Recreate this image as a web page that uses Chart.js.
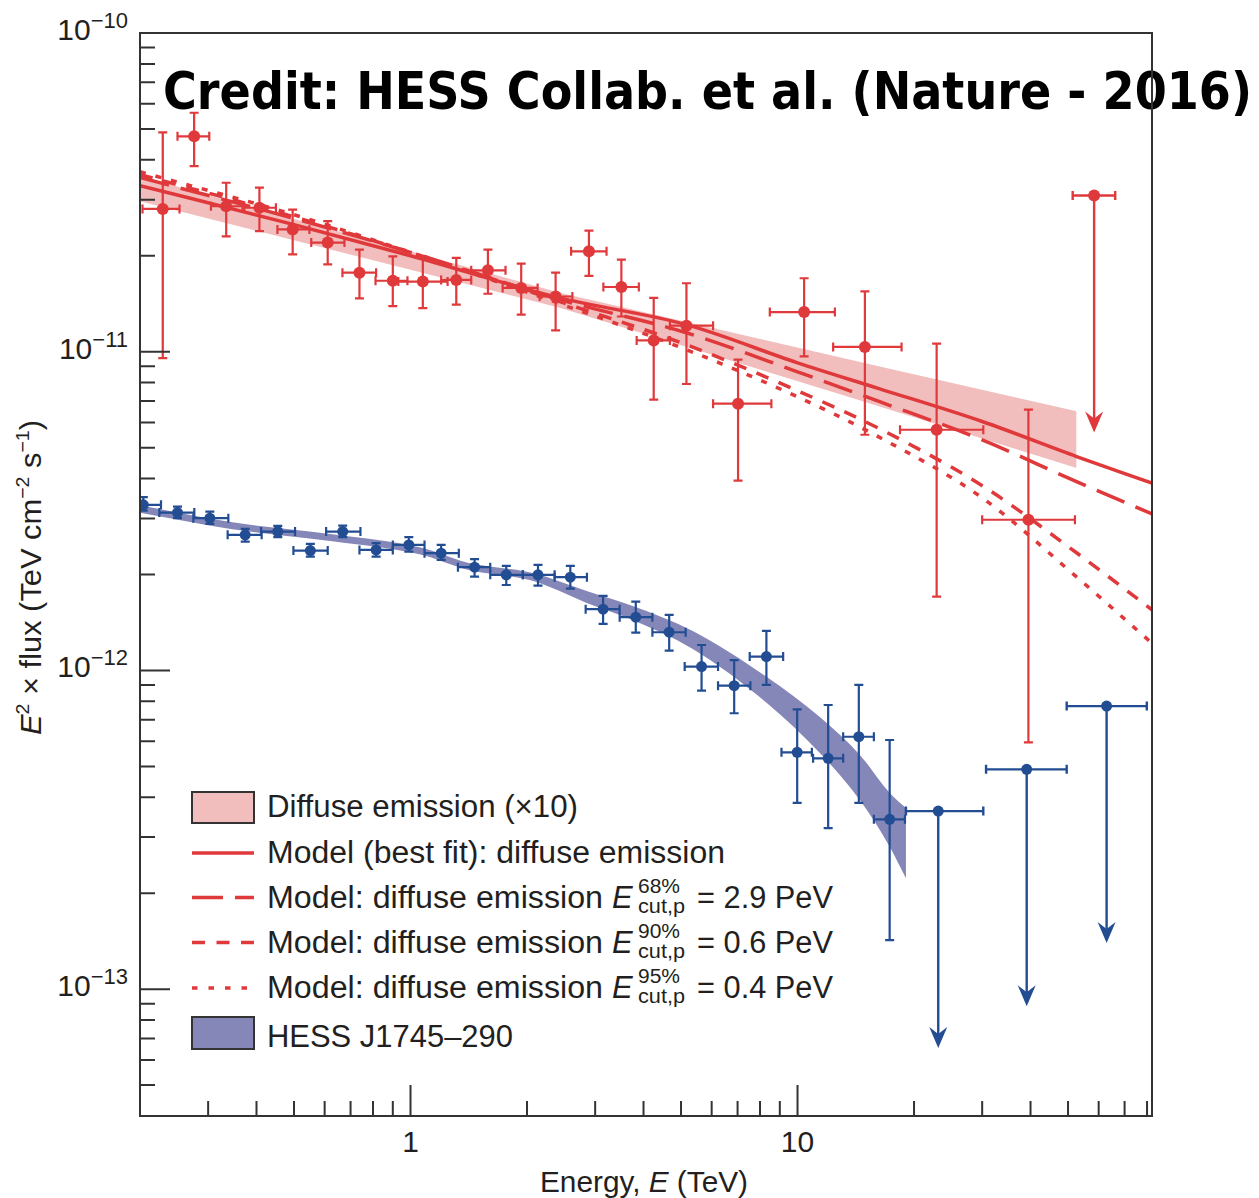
<!DOCTYPE html>
<html>
<head>
<meta charset="utf-8">
<title>Galactic Centre diffuse emission spectrum</title>
<script src="https://cdn.jsdelivr.net/npm/chart.js@4.4.1/dist/chart.umd.min.js"></script>
<style>
  html, body { margin: 0; padding: 0; background: #fff; }
  #wrap { position: relative; width: 1259px; height: 1198px; overflow: hidden; }
  #labels, #spectrum { position: absolute; left: 0; top: 0; }
  #labels { z-index: 0; font-family: "Liberation Sans", Arial, sans-serif; fill: #231f20; }
  #spectrum { z-index: 1; }
</style>
</head>
<body>
<div id="wrap">
  <svg id="labels" width="1259" height="1198" xmlns="http://www.w3.org/2000/svg">
    <text x="163" y="109" font-family="DejaVu Sans" font-weight="bold" font-size="52" fill="#000"
          textLength="1089" lengthAdjust="spacingAndGlyphs">Credit: HESS Collab. et al. (Nature - 2016)</text>
    <g id="ticklabels"></g>

    <!-- axis titles -->
    <text x="540" y="1192" font-size="29" textLength="208" lengthAdjust="spacingAndGlyphs">Energy, <tspan font-style="italic">E</tspan> (TeV)</text>
    <text transform="translate(41,735) rotate(-90)" font-size="30" textLength="315" lengthAdjust="spacingAndGlyphs"><tspan font-style="italic">E</tspan><tspan font-size="19" dy="-12">2</tspan><tspan dy="12"> × flux (TeV cm</tspan><tspan font-size="19" dy="-12">−2</tspan><tspan dy="12"> s</tspan><tspan font-size="19" dy="-12">−1</tspan><tspan dy="12">)</tspan></text>

    <!-- legend -->
    <g font-size="31">
      <rect x="192" y="792" width="62" height="31" fill="#f2bdbd" stroke="#333" stroke-width="2"/>
      <text x="267" y="817" textLength="311" lengthAdjust="spacingAndGlyphs">Diffuse emission (×10)</text>

      <line x1="192" x2="254" y1="853" y2="853" stroke="#e0393b" stroke-width="3.5"/>
      <text x="267" y="863" textLength="458" lengthAdjust="spacingAndGlyphs">Model (best fit): diffuse emission</text>

      <line x1="192" x2="254" y1="897.5" y2="897.5" stroke="#e0393b" stroke-width="3.5" stroke-dasharray="31 12"/>
      <text x="267" y="908" textLength="336" lengthAdjust="spacingAndGlyphs">Model: diffuse emission</text>
      <text x="612" y="908" font-style="italic">E</text>
      <text x="638" y="893" font-size="20" textLength="42" lengthAdjust="spacingAndGlyphs">68%</text>
      <text x="638" y="913" font-size="20" textLength="47" lengthAdjust="spacingAndGlyphs">cut,p</text>
      <text x="697" y="908" textLength="136" lengthAdjust="spacingAndGlyphs">= 2.9 PeV</text>

      <line x1="192" x2="254" y1="942.5" y2="942.5" stroke="#e0393b" stroke-width="3.5" stroke-dasharray="13 11.5"/>
      <text x="267" y="953" textLength="336" lengthAdjust="spacingAndGlyphs">Model: diffuse emission</text>
      <text x="612" y="953" font-style="italic">E</text>
      <text x="638" y="938" font-size="20" textLength="42" lengthAdjust="spacingAndGlyphs">90%</text>
      <text x="638" y="958" font-size="20" textLength="47" lengthAdjust="spacingAndGlyphs">cut,p</text>
      <text x="697" y="953" textLength="136" lengthAdjust="spacingAndGlyphs">= 0.6 PeV</text>

      <line x1="192" x2="254" y1="988" y2="988" stroke="#e0393b" stroke-width="3.5" stroke-dasharray="5.5 11"/>
      <text x="267" y="998" textLength="336" lengthAdjust="spacingAndGlyphs">Model: diffuse emission</text>
      <text x="612" y="998" font-style="italic">E</text>
      <text x="638" y="983" font-size="20" textLength="42" lengthAdjust="spacingAndGlyphs">95%</text>
      <text x="638" y="1003" font-size="20" textLength="47" lengthAdjust="spacingAndGlyphs">cut,p</text>
      <text x="697" y="998" textLength="136" lengthAdjust="spacingAndGlyphs">= 0.4 PeV</text>

      <rect x="192" y="1017" width="62" height="32" fill="#8487b7" stroke="#333" stroke-width="2"/>
      <text x="267" y="1047" textLength="246" lengthAdjust="spacingAndGlyphs">HESS J1745–290</text>
    </g>
  </svg>
  <canvas id="spectrum" width="1259" height="1198"></canvas>
</div>

<script>
// diffuse emission (x10): flux points, TeV and TeV cm^-2 s^-1
var diffE   = [0.229, 0.276, 0.334, 0.407, 0.496, 0.611, 0.738, 0.90, 1.076, 1.313, 1.585, 1.932, 2.371, 2.891, 3.506, 4.25, 5.164, 7.02, 10.4, 14.93, 22.88, 39.5];
var diffF   = [2.805e-11, 4.74e-11, 2.86e-11, 2.83e-11, 2.42e-11, 2.20e-11, 1.77e-11, 1.67e-11, 1.66e-11, 1.68e-11, 1.80e-11, 1.585e-11, 1.49e-11, 2.065e-11, 1.596e-11, 1.085e-11, 1.207e-11, 6.87e-12, 1.332e-11, 1.035e-11, 5.69e-12, 2.97e-12];
var diffFhi = [4.88e-11, 5.62e-11, 3.39e-11, 3.27e-11, 2.79e-11, 2.57e-11, 2.09e-11, 1.99e-11, 1.99e-11, 1.97e-11, 2.09e-11, 1.89e-11, 1.77e-11, 2.40e-11, 1.945e-11, 1.475e-11, 1.64e-11, 9.44e-12, 1.70e-11, 1.546e-11, 1.06e-11, 6.58e-12];
var diffFlo = [9.55e-12, 3.82e-11, 2.30e-11, 2.39e-11, 2.02e-11, 1.88e-11, 1.47e-11, 1.39e-11, 1.37e-11, 1.405e-11, 1.52e-11, 1.307e-11, 1.166e-11, 1.73e-11, 1.29e-11, 7.07e-12, 7.92e-12, 3.94e-12, 9.67e-12, 5.49e-12, 1.705e-12, 5.95e-13];
var diffElo = [0.203, 0.250, 0.305, 0.372, 0.453, 0.554, 0.667, 0.812, 0.93, 1.20, 1.435, 1.73, 2.156, 2.60, 3.15, 3.84, 4.68, 6.05, 8.48, 12.36, 18.4, 30.0];
var diffEhi = [0.253, 0.302, 0.368, 0.449, 0.548, 0.675, 0.815, 0.982, 1.247, 1.435, 1.76, 2.13, 2.62, 3.21, 3.89, 4.68, 6.05, 8.56, 12.49, 18.57, 30.2, 52.1];
// diffuse emission upper limit
var diffUlE   = [58.4];
var diffUlF   = [3.09e-11];
var diffUlElo = [51.4];
var diffUlEhi = [66.2];

// diffuse power-law fit band
var diffBandE  = [0.2, 1, 2.43, 16.3, 52.6];
var diffBandHi = [3.55e-11, 2.065e-11, 1.53e-11, 8.99e-12, 6.50e-12];
var diffBandLo = [2.965e-11, 1.807e-11, 1.374e-11, 6.73e-12, 4.32e-12];

// hadronic models for the diffuse emission
var modelE    = [0.2, 0.5, 1, 2.43, 5.16, 10, 16.3, 30, 52.6, 82.4];
var modelBest = [3.32e-11, 2.505e-11, 2.00e-11, 1.475e-11, 1.216e-11, 9.23e-12, 7.65e-12, 6.04e-12, 4.69e-12, 3.87e-12];
var model68   = [3.52e-11, 2.62e-11, 2.05e-11, 1.457e-11, 1.147e-11, 8.65e-12, 6.97e-12, 5.29e-12, 3.91e-12, 3.10e-12];
var model90   = [3.595e-11, 2.65e-11, 2.05e-11, 1.436e-11, 1.052e-11, 7.545e-12, 5.73e-12, 3.80e-12, 2.34e-12, 1.55e-12];
var model95   = [3.67e-11, 2.69e-11, 2.05e-11, 1.415e-11, 1.015e-11, 7.22e-12, 5.385e-12, 3.48e-12, 1.966e-12, 1.217e-12];

// HESS J1745-290 flux points
var srcE   = [0.204, 0.250, 0.303, 0.374, 0.454, 0.551, 0.668, 0.815, 0.99, 1.20, 1.464, 1.768, 2.135, 2.588, 3.145, 3.82, 4.66, 5.65, 6.86, 8.31, 9.98, 12.0, 14.4, 17.3];
var srcF   = [3.309e-12, 3.128e-12, 3.005e-12, 2.663e-12, 2.727e-12, 2.377e-12, 2.727e-12, 2.389e-12, 2.477e-12, 2.333e-12, 2.109e-12, 1.995e-12, 1.995e-12, 1.962e-12, 1.557e-12, 1.469e-12, 1.318e-12, 1.028e-12, 8.96e-13, 1.105e-12, 5.535e-13, 5.30e-13, 6.195e-13, 3.41e-13];
var srcFhi = [3.498e-12, 3.267e-12, 3.151e-12, 2.781e-12, 2.842e-12, 2.495e-12, 2.848e-12, 2.508e-12, 2.619e-12, 2.477e-12, 2.234e-12, 2.129e-12, 2.145e-12, 2.129e-12, 1.714e-12, 1.644e-12, 1.494e-12, 1.202e-12, 1.078e-12, 1.330e-12, 7.55e-13, 7.79e-13, 9.01e-13, 6.05e-13];
var srcFlo = [3.175e-12, 3.005e-12, 2.884e-12, 2.537e-12, 2.619e-12, 2.276e-12, 2.619e-12, 2.276e-12, 2.360e-12, 2.223e-12, 1.970e-12, 1.854e-12, 1.845e-12, 1.806e-12, 1.400e-12, 1.314e-12, 1.154e-12, 8.64e-13, 7.34e-13, 9.01e-13, 3.84e-13, 3.20e-13, 3.84e-13, 1.426e-13];
var srcElo = [0.183, 0.2244, 0.2747, 0.3369, 0.411, 0.4982, 0.6053, 0.738, 0.900, 1.087, 1.326, 1.607, 1.951, 2.357, 2.835, 3.471, 4.217, 5.11, 6.232, 7.524, 9.09, 10.97, 13.12, 15.75];
var srcEhi = [0.2266, 0.2763, 0.3383, 0.4124, 0.5031, 0.611, 0.7424, 0.900, 1.087, 1.333, 1.607, 1.951, 2.357, 2.857, 3.471, 4.217, 5.14, 6.232, 7.556, 9.18, 10.89, 13.12, 15.75, 18.95];
// HESS J1745-290 upper limits
var srcUlE   = [23.1, 39.1, 62.9];
var srcUlF   = [3.62e-13, 4.895e-13, 7.73e-13];
var srcUlElo = [19.06, 30.7, 49.6];
var srcUlEhi = [30.2, 49.6, 79.9];

// HESS J1745-290 spectral fit band
var srcBandE  = [0.2, 0.3465, 0.6284, 1.055, 1.396, 2.068, 2.852, 3.751, 5.361, 8.331, 11.42, 14.49, 17.33, 19.06];
var srcBandHi = [3.297e-12, 2.915e-12, 2.673e-12, 2.433e-12, 2.183e-12, 2.023e-12, 1.776e-12, 1.594e-12, 1.330e-12, 9.54e-13, 7.14e-13, 5.43e-13, 4.12e-13, 3.70e-13];
var srcBandLo = [3.122e-12, 2.772e-12, 2.541e-12, 2.313e-12, 2.075e-12, 1.910e-12, 1.629e-12, 1.441e-12, 1.168e-12, 7.91e-13, 5.51e-13, 3.92e-13, 2.79e-13, 2.23e-13];

// axes
var xTickValues = [1, 10];
var xTickLabels = ["1", "10"];
var yTickPowers = [-10, -11, -12, -13];

var RED = "#e0393b", PINK = "#f2bdbd", BLUE = "#234d93", LAVENDER = "#8487b7", AXIS = "#333333";
var ARROW_LEN = 237;

function xy(xs, ys) {
    return xs.map(function (x, i) { return { x: x, y: ys[i] }; });
}

function modelLine(label, ys, dash) {
    return {
        label: label,
        data: xy(modelE, ys),
        showLine: true,
        borderColor: RED,
        borderWidth: 3.5,
        borderDash: dash,
        pointRadius: 0,
        cubicInterpolationMode: "monotone",
        order: 5
    };
}

function bandEdge(label, xs, ys, fill, color, smooth) {
    return {
        label: label,
        data: xy(xs, ys),
        showLine: true,
        borderWidth: 0,
        borderColor: "transparent",
        backgroundColor: color,
        pointRadius: 0,
        fill: fill,
        cubicInterpolationMode: smooth ? "monotone" : "default",
        tension: 0,
        order: 10
    };
}

function fluxPoints(label, xs, ys, color, radius, errs, upper) {
    return {
        label: label,
        data: xy(xs, ys),
        backgroundColor: color,
        borderColor: color,
        borderWidth: 0,
        pointRadius: radius,
        errors: errs,
        upperLimit: !!upper,
        order: 1
    };
}

// error bars, caps and upper-limit arrows, drawn just before the points
var errorBars = {
    id: "errorBars",
    beforeDatasetDraw: function (chart, args) {
        var ds = chart.data.datasets[args.index];
        if (!ds.errors) return;
        var ctx = chart.ctx, a = chart.chartArea;
        var xs = chart.scales.x, ys = chart.scales.y;
        var e = ds.errors, cap = 4.5;
        ctx.save();
        ctx.beginPath();
        ctx.rect(a.left, a.top, a.right - a.left, a.bottom - a.top);
        ctx.clip();
        ctx.strokeStyle = ds.borderColor;
        ctx.fillStyle = ds.borderColor;
        ctx.lineWidth = ds.upperLimit ? 2.4 : 2.2;
        ds.data.forEach(function (p, i) {
            var px = xs.getPixelForValue(p.x), py = ys.getPixelForValue(p.y);
            var x0 = xs.getPixelForValue(e.xlo[i]), x1 = xs.getPixelForValue(e.xhi[i]);
            ctx.beginPath();
            ctx.moveTo(x0, py); ctx.lineTo(x1, py);
            ctx.moveTo(x0, py - cap); ctx.lineTo(x0, py + cap);
            ctx.moveTo(x1, py - cap); ctx.lineTo(x1, py + cap);
            if (e.ylo) {
                var y0 = ys.getPixelForValue(e.ylo[i]), y1 = ys.getPixelForValue(e.yhi[i]);
                ctx.moveTo(px, y1); ctx.lineTo(px, y0);
                ctx.moveTo(px - cap, y1); ctx.lineTo(px + cap, y1);
                ctx.moveTo(px - cap, y0); ctx.lineTo(px + cap, y0);
            }
            if (ds.upperLimit) {
                ctx.moveTo(px, py); ctx.lineTo(px, py + ARROW_LEN - 12);
            }
            ctx.stroke();
            if (ds.upperLimit) {
                var tip = py + ARROW_LEN;
                ctx.beginPath();
                ctx.moveTo(px, tip);
                ctx.lineTo(px - 9, tip - 21);
                ctx.lineTo(px, tip - 14);
                ctx.lineTo(px + 9, tip - 21);
                ctx.closePath();
                ctx.fill();
            }
        });
        ctx.restore();
    }
};

// box frame with inward ticks on the left and bottom axes
var axisFrame = {
    id: "axisFrame",
    afterDatasetsDraw: function (chart) {
        var ctx = chart.ctx, a = chart.chartArea;
        var xs = chart.scales.x, ys = chart.scales.y;
        ctx.save();
        ctx.strokeStyle = AXIS;
        ctx.lineWidth = 2;
        ctx.beginPath();
        for (var p = -1; p <= 1; p++) {
            for (var m = 1; m <= 9; m++) {
                var v = m * Math.pow(10, p);
                if (v <= xs.min * 1.001 || v >= xs.max) continue;
                var px = xs.getPixelForValue(v);
                ctx.moveTo(px, a.bottom);
                ctx.lineTo(px, a.bottom - (m === 1 ? 31 : 15));
            }
        }
        for (var q = -14; q <= -11; q++) {
            for (var n = 1; n <= 9; n++) {
                var w = n * Math.pow(10, q);
                if (w <= ys.min * 1.001 || w >= ys.max * 0.999) continue;
                var py = ys.getPixelForValue(w);
                ctx.moveTo(a.left, py);
                ctx.lineTo(a.left + (n === 1 ? 30 : 15), py);
            }
        }
        ctx.stroke();
        ctx.strokeRect(a.left, a.top, a.right - a.left, a.bottom - a.top);
        ctx.restore();
    }
};

var chart = new Chart(document.getElementById("spectrum"), {
    type: "scatter",
    data: {
        datasets: [
            bandEdge("Diffuse emission upper", diffBandE, diffBandHi, false, PINK, false),
            bandEdge("Diffuse emission (x10)", diffBandE, diffBandLo, "-1", PINK, false),
            bandEdge("HESS J1745-290 upper", srcBandE, srcBandHi, false, LAVENDER, true),
            bandEdge("HESS J1745-290", srcBandE, srcBandLo, "-1", LAVENDER, true),
            modelLine("Model (best fit): diffuse emission", modelBest, []),
            modelLine("Model: Ecut 2.9 PeV", model68, [30, 12]),
            modelLine("Model: Ecut 0.6 PeV", model90, [13, 11]),
            modelLine("Model: Ecut 0.4 PeV", model95, [6, 10]),
            fluxPoints("Diffuse points", diffE, diffF, RED, 6,
                { xlo: diffElo, xhi: diffEhi, ylo: diffFlo, yhi: diffFhi }),
            fluxPoints("Diffuse upper limit", diffUlE, diffUlF, RED, 6,
                { xlo: diffUlElo, xhi: diffUlEhi }, true),
            fluxPoints("J1745 points", srcE, srcF, BLUE, 5.5,
                { xlo: srcElo, xhi: srcEhi, ylo: srcFlo, yhi: srcFhi }),
            fluxPoints("J1745 upper limits", srcUlE, srcUlF, BLUE, 5.5,
                { xlo: srcUlElo, xhi: srcUlEhi }, true)
        ]
    },
    options: {
        responsive: false,
        animation: false,
        events: [],
        layout: { padding: { left: 140, top: 33, right: 107, bottom: 82 } },
        scales: {
            x: { type: "logarithmic", min: 0.2, max: 82.4, display: false },
            y: { type: "logarithmic", min: 4e-14, max: 1e-10, display: false }
        },
        plugins: {
            legend: { display: false },
            tooltip: { enabled: false }
        }
    },
    plugins: [errorBars, axisFrame]
});

// tick labels placed from the chart's own scales
var NS = "http://www.w3.org/2000/svg";
var tickGroup = document.getElementById("ticklabels");
var xScale = chart.scales.x, yScale = chart.scales.y;

yTickPowers.forEach(function (p) {
    var py = yScale.getPixelForValue(Math.pow(10, p));
    var t = document.createElementNS(NS, "text");
    t.setAttribute("x", 128);
    t.setAttribute("y", py + 7);
    t.setAttribute("text-anchor", "end");
    t.setAttribute("font-size", 30);
    t.appendChild(document.createTextNode("10"));
    var sup = document.createElementNS(NS, "tspan");
    sup.setAttribute("font-size", 22);
    sup.setAttribute("dy", -12);
    sup.textContent = "−" + Math.abs(p);
    t.appendChild(sup);
    tickGroup.appendChild(t);
});

xTickValues.forEach(function (v, i) {
    var t = document.createElementNS(NS, "text");
    t.setAttribute("x", xScale.getPixelForValue(v));
    t.setAttribute("y", 1152);
    t.setAttribute("text-anchor", "middle");
    t.setAttribute("font-size", 30);
    t.textContent = xTickLabels[i];
    tickGroup.appendChild(t);
});
</script>
</body>
</html>
